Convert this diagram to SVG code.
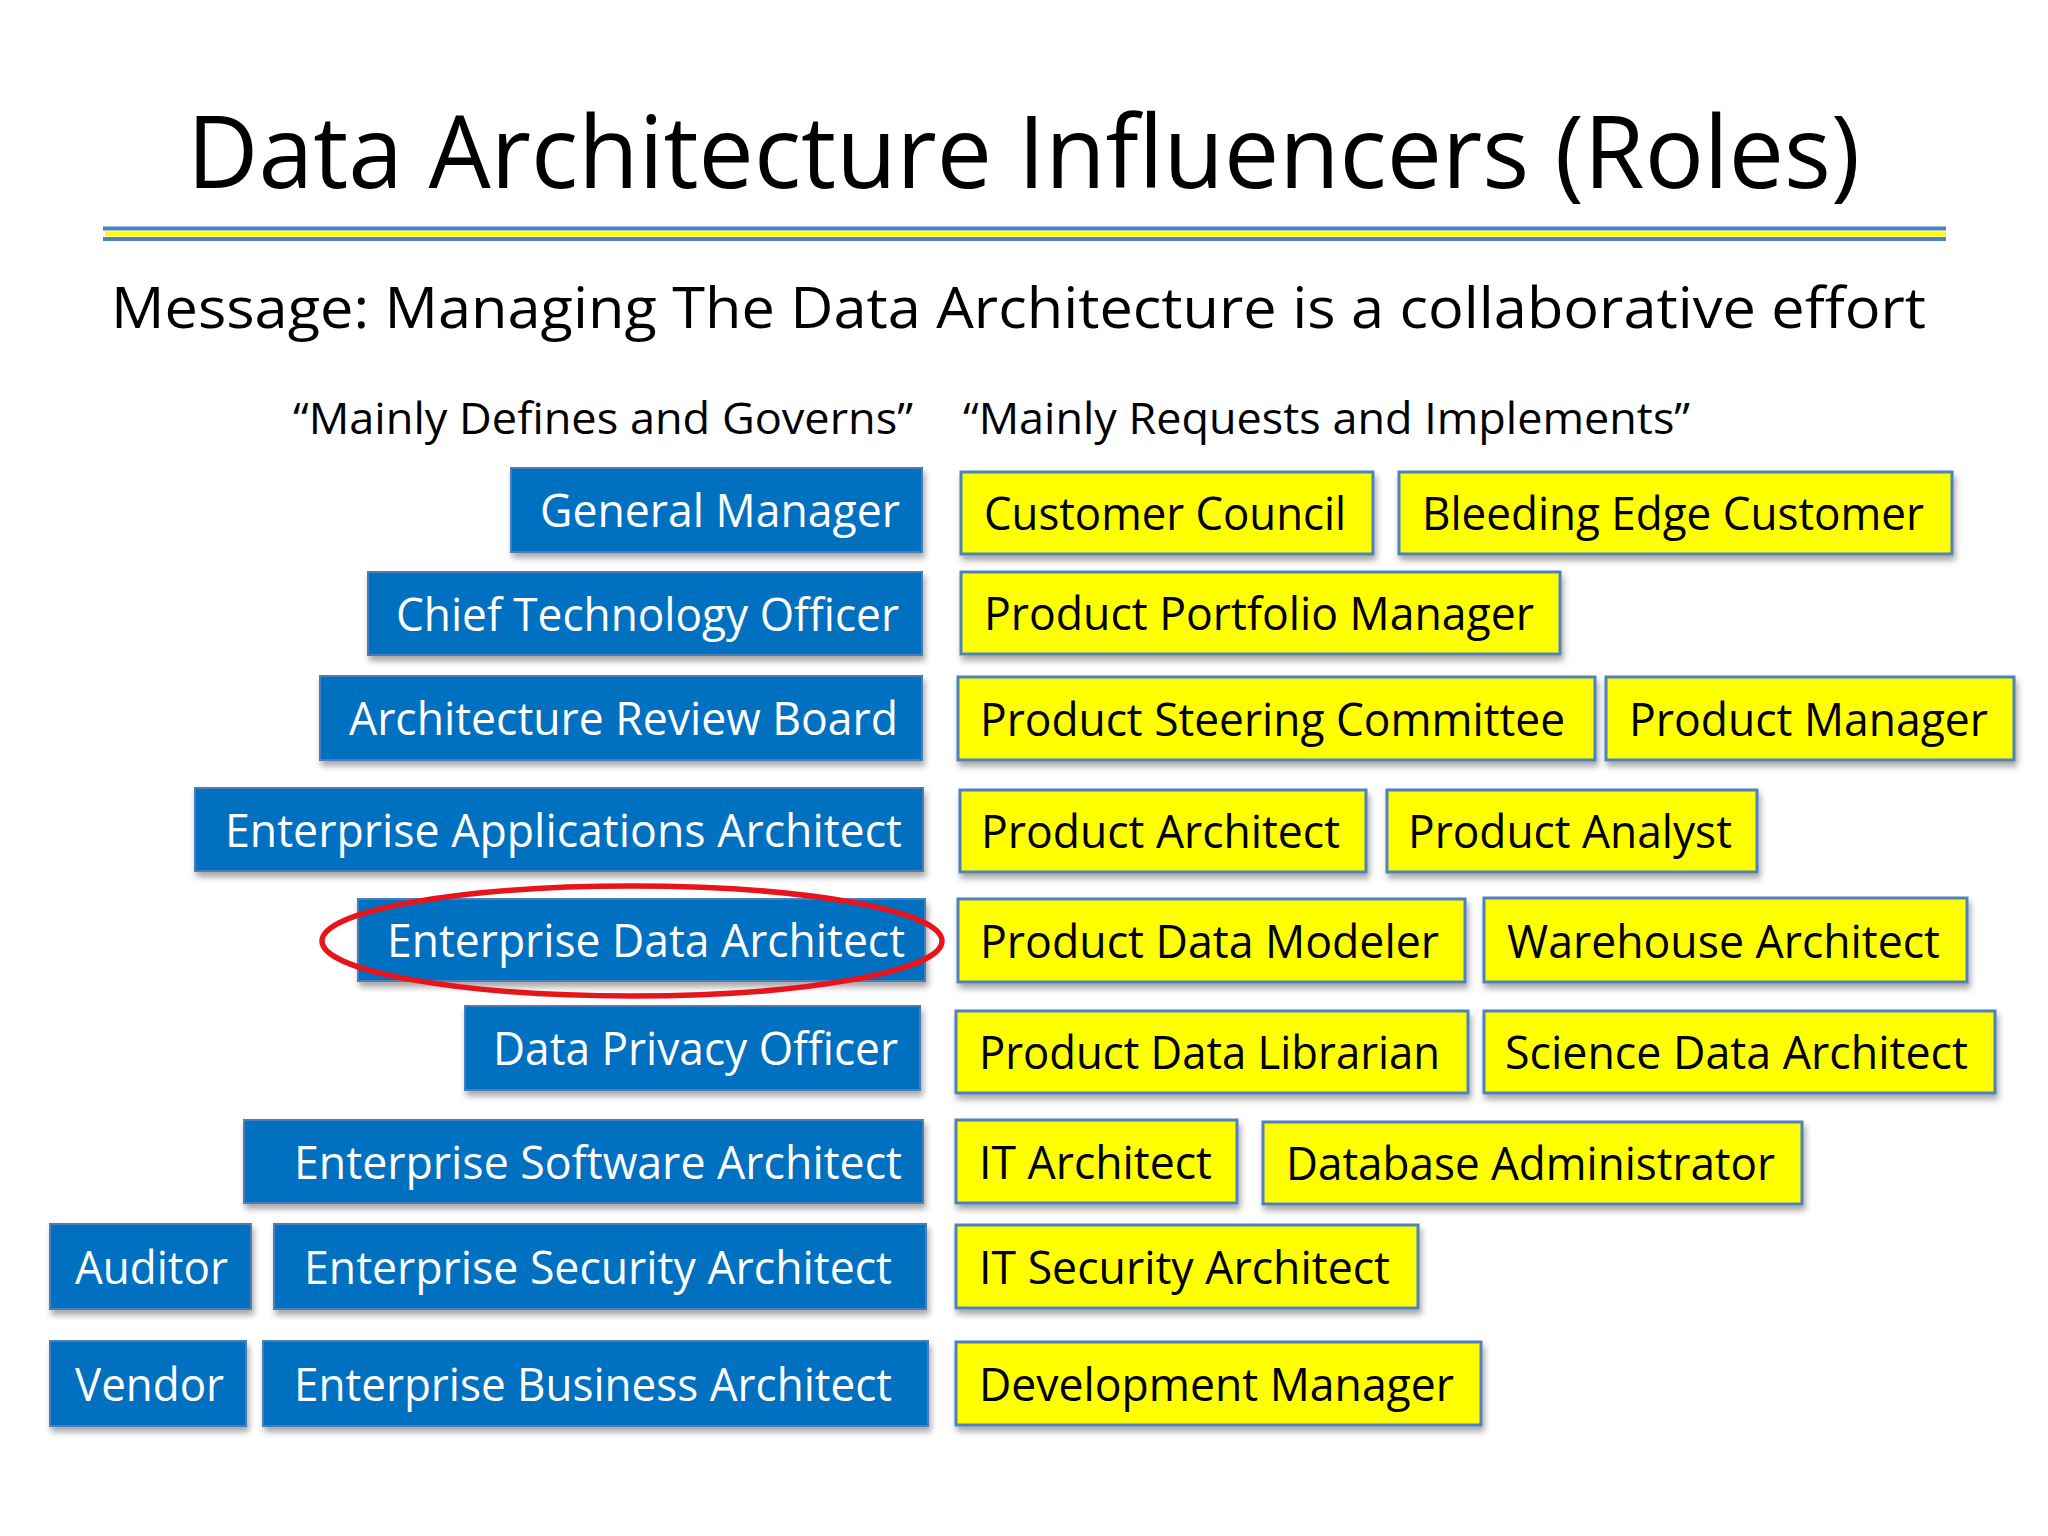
<svg xmlns="http://www.w3.org/2000/svg" width="2048" height="1536" viewBox="0 0 2048 1536">
<defs>
<filter id="sh" x="-5%" y="-20%" width="115%" height="150%">
<feDropShadow dx="2" dy="5" stdDeviation="3" flood-color="#000" flood-opacity="0.35"/>
</filter>
<style>
text{font-family:"Open Sans","Noto Sans","Liberation Sans",sans-serif;}
.blue rect{fill:#0070c0;stroke:#4a7ebb;stroke-width:2;filter:url(#sh);}
.yel rect{fill:#ffff00;stroke:#4f81bd;stroke-width:3;filter:url(#sh);}
.blue text{fill:#fff;font-size:46px;}
.yel text{fill:#000;font-size:46px;}
.hdr{font-size:44px;fill:#000;}
</style>
</defs>
<rect width="2048" height="1536" fill="#fff"/>
<text x="187" y="188" font-size="100" textLength="1673" lengthAdjust="spacingAndGlyphs">Data Architecture Influencers (Roles)</text>
<rect x="103" y="226.5" width="1843" height="4" fill="#4f81bd"/>
<rect x="105" y="231.5" width="1841" height="5" fill="#ffff00"/>
<rect x="103" y="237" width="1843" height="4" fill="#4f81bd"/>
<text x="111" y="328" font-size="57" textLength="1815" lengthAdjust="spacingAndGlyphs">Message: Managing The Data Architecture is a collaborative effort</text>
<text class="hdr" x="293" y="434" textLength="620" lengthAdjust="spacingAndGlyphs">“Mainly Defines and Governs”</text>
<text class="hdr" x="963" y="434" textLength="727" lengthAdjust="spacingAndGlyphs">“Mainly Requests and Implements”</text>

<g id="general-manager" class="blue"><rect x="511" y="468" width="411" height="84"/><text x="540" y="527" textLength="360" lengthAdjust="spacingAndGlyphs">General Manager</text></g>
<g id="cto" class="blue"><rect x="368" y="572" width="554" height="83"/><text x="396" y="631" textLength="503" lengthAdjust="spacingAndGlyphs">Chief Technology Officer</text></g>
<g id="arb" class="blue"><rect x="320" y="676" width="602" height="84"/><text x="349" y="735" textLength="549" lengthAdjust="spacingAndGlyphs">Architecture Review Board</text></g>
<g id="eaa" class="blue"><rect x="195" y="788" width="728" height="83"/><text x="225" y="847" textLength="677" lengthAdjust="spacingAndGlyphs">Enterprise Applications Architect</text></g>
<g id="eda" class="blue"><rect x="358" y="899" width="567" height="82"/><text x="387" y="957" textLength="518" lengthAdjust="spacingAndGlyphs">Enterprise Data Architect</text></g>
<g id="dpo" class="blue"><rect x="465" y="1006" width="455" height="84"/><text x="493" y="1065" textLength="405" lengthAdjust="spacingAndGlyphs">Data Privacy Officer</text></g>
<g id="esa" class="blue"><rect x="244" y="1120" width="679" height="83"/><text x="294" y="1179" textLength="608" lengthAdjust="spacingAndGlyphs">Enterprise Software Architect</text></g>
<g id="auditor" class="blue"><rect x="50" y="1224" width="201" height="85"/><text x="75" y="1284" textLength="153" lengthAdjust="spacingAndGlyphs">Auditor</text></g>
<g id="esec" class="blue"><rect x="274" y="1224" width="652" height="85"/><text x="304" y="1284" textLength="588" lengthAdjust="spacingAndGlyphs">Enterprise Security Architect</text></g>
<g id="vendor" class="blue"><rect x="50" y="1341" width="196" height="85"/><text x="75" y="1401" textLength="149" lengthAdjust="spacingAndGlyphs">Vendor</text></g>
<g id="eba" class="blue"><rect x="263" y="1341" width="665" height="85"/><text x="294" y="1401" textLength="598" lengthAdjust="spacingAndGlyphs">Enterprise Business Architect</text></g>

<g id="customer-council" class="yel"><rect x="961" y="472" width="412" height="82"/><text x="984" y="530" textLength="362" lengthAdjust="spacingAndGlyphs">Customer Council</text></g>
<g id="bleeding-edge" class="yel"><rect x="1399" y="472" width="553" height="82"/><text x="1422" y="530" textLength="502" lengthAdjust="spacingAndGlyphs">Bleeding Edge Customer</text></g>
<g id="ppm" class="yel"><rect x="961" y="572" width="599" height="82"/><text x="984" y="630" textLength="550" lengthAdjust="spacingAndGlyphs">Product Portfolio Manager</text></g>
<g id="psc" class="yel"><rect x="958" y="677" width="637" height="83"/><text x="980" y="736" textLength="585" lengthAdjust="spacingAndGlyphs">Product Steering Committee</text></g>
<g id="pm" class="yel"><rect x="1606" y="677" width="408" height="83"/><text x="1629" y="736" textLength="359" lengthAdjust="spacingAndGlyphs">Product Manager</text></g>
<g id="parch" class="yel"><rect x="960" y="790" width="406" height="82"/><text x="981" y="848" textLength="359" lengthAdjust="spacingAndGlyphs">Product Architect</text></g>
<g id="panalyst" class="yel"><rect x="1387" y="790" width="370" height="82"/><text x="1408" y="848" textLength="324" lengthAdjust="spacingAndGlyphs">Product Analyst</text></g>
<g id="pdm" class="yel"><rect x="958" y="899" width="507" height="83"/><text x="980" y="958" textLength="459" lengthAdjust="spacingAndGlyphs">Product Data Modeler</text></g>
<g id="wa" class="yel"><rect x="1484" y="898" width="483" height="84"/><text x="1507" y="958" textLength="433" lengthAdjust="spacingAndGlyphs">Warehouse Architect</text></g>
<g id="pdl" class="yel"><rect x="956" y="1011" width="512" height="82"/><text x="979" y="1069" textLength="461" lengthAdjust="spacingAndGlyphs">Product Data Librarian</text></g>
<g id="sda" class="yel"><rect x="1484" y="1011" width="511" height="82"/><text x="1505" y="1069" textLength="463" lengthAdjust="spacingAndGlyphs">Science Data Architect</text></g>
<g id="ita" class="yel"><rect x="956" y="1120" width="281" height="83"/><text x="979" y="1179" textLength="233" lengthAdjust="spacingAndGlyphs">IT Architect</text></g>
<g id="dba" class="yel"><rect x="1263" y="1122" width="539" height="82"/><text x="1286" y="1180" textLength="489" lengthAdjust="spacingAndGlyphs">Database Administrator</text></g>
<g id="itsec" class="yel"><rect x="956" y="1225" width="462" height="83"/><text x="979" y="1284" textLength="411" lengthAdjust="spacingAndGlyphs">IT Security Architect</text></g>
<g id="devmgr" class="yel"><rect x="956" y="1342" width="525" height="83"/><text x="979" y="1401" textLength="475" lengthAdjust="spacingAndGlyphs">Development Manager</text></g>

<g id="connectors">
<ellipse cx="632" cy="941" rx="310" ry="55" fill="none" stroke="#e8141c" stroke-width="5.5"/>
</g>
</svg>
